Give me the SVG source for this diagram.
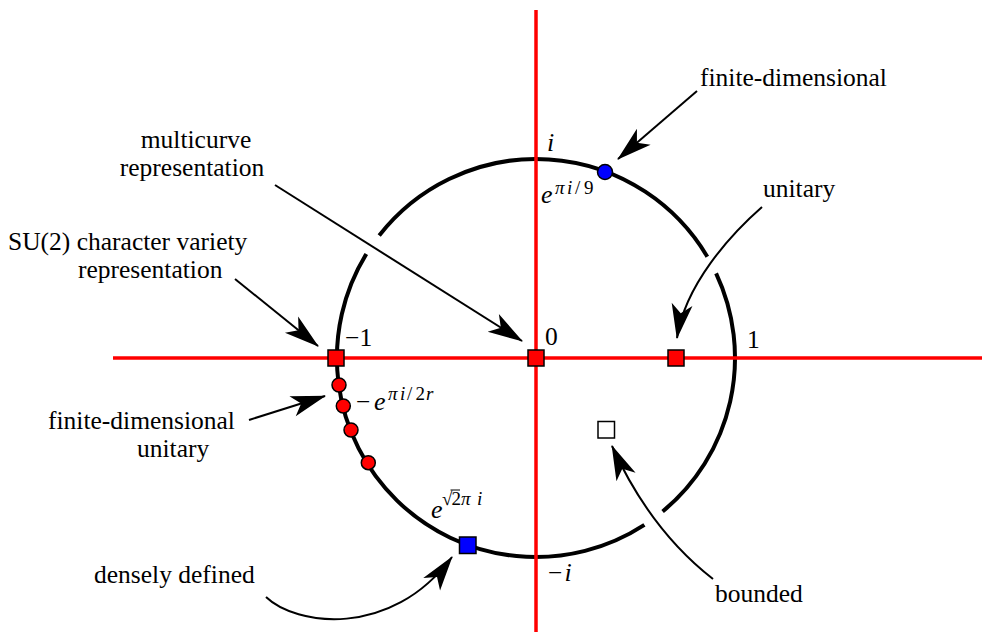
<svg xmlns="http://www.w3.org/2000/svg" width="986" height="632" viewBox="0 0 986 632">
<style>
  .lbl { font-family: "Liberation Serif", "Times New Roman", serif; font-size: 25.5px; fill: #000; }
  .math { font-family: "Liberation Serif", "Times New Roman", serif; font-size: 26px; font-style: italic; fill: #000; }
  .sup { font-family: "Liberation Serif", "Times New Roman", serif; font-size: 19px; font-style: italic; fill: #000; }
  .up { font-style: normal; }
  .circ { fill: none; stroke: #000; stroke-width: 4; }
  .axis { stroke: #ff0000; stroke-width: 3.5; fill: none; }
  .conn { fill: none; stroke: #000; stroke-width: 2; }
  .rsq { fill: #ff0000; stroke: #000; stroke-width: 1.5; }
  .bsq { fill: #0000ff; stroke: #000; stroke-width: 1.5; }
  .wsq { fill: #fff; stroke: #000; stroke-width: 1.5; }
  .rdot { fill: #ff0000; stroke: #000; stroke-width: 1.5; }
</style>
<defs>
  <marker id="head" markerUnits="userSpaceOnUse" orient="auto" refX="0" refY="0" markerWidth="40" markerHeight="30" overflow="visible">
    <path d="M1,0 L-34,-10.5 L-25,0 L-34,10.5 Z" fill="#000"/>
  </marker>
</defs>
<rect width="986" height="632" fill="#fff"/>

<g id="unit-circle">
  <path class="circ" d="M379.2,235.5 A199,199 0 0 1 707.3,256.7"/>
  <path class="circ" d="M716.1,273.3 A199,199 0 0 1 662.6,511.5"/>
  <path class="circ" d="M644.4,524.9 A199,199 0 0 1 366.3,254.0"/>
</g>

<g id="axes">
  <line class="axis" x1="113" y1="358" x2="982" y2="358"/>
  <line class="axis" x1="536" y1="10" x2="536" y2="632"/>
</g>

<g id="connectors">
  <path class="conn" d="M697,91 L618,159" marker-end="url(#head)"/>
  <path class="conn" d="M762,207 C730,235 685,285 677,338" marker-end="url(#head)"/>
  <path class="conn" d="M275,185 L522,341" marker-end="url(#head)"/>
  <path class="conn" d="M235,279 L318,346" marker-end="url(#head)"/>
  <path class="conn" d="M249,420 L325,396" marker-end="url(#head)"/>
  <path class="conn" d="M266,597 C295,625 390,640 452,557" marker-end="url(#head)"/>
  <path class="conn" d="M713,579 Q650,530 612,446" marker-end="url(#head)"/>
</g>

<g id="node-minus-one"><rect class="rsq" x="328" y="350" width="16" height="16"/></g>
<g id="node-zero"><rect class="rsq" x="528" y="350" width="16" height="16"/></g>
<g id="node-unitary"><rect class="rsq" x="668" y="350" width="16" height="16"/></g>
<g id="node-finite-dim"><circle cx="605" cy="172" r="7.5" fill="#0000ff" stroke="#000" stroke-width="1.5"/></g>
<g id="node-fd-unitary">
  <circle class="rdot" cx="339" cy="385" r="7"/>
  <circle class="rdot" cx="343.3" cy="406" r="7"/>
  <circle class="rdot" cx="351" cy="430" r="7"/>
  <circle class="rdot" cx="368.3" cy="462.7" r="7"/>
</g>
<g id="node-densely"><rect class="bsq" x="459.5" y="537" width="16.5" height="16.5"/></g>
<g id="node-bounded"><rect class="wsq" x="598" y="421.5" width="16.5" height="16.5"/></g>

<g id="axis-labels">
  <text class="math" x="547" y="151">i</text>
  <text class="lbl" x="545" y="345">0</text>
  <text class="lbl" x="747" y="348">1</text>
  <text class="lbl" x="345" y="346">−1</text>
  <text class="lbl" x="548" y="581">−<tspan class="math" dx="2">i</tspan></text>
</g>

<g id="math-labels">
  <text class="math" x="541" y="203">e</text>
  <text class="sup" y="194"><tspan x="555">π</tspan><tspan x="567">i</tspan><tspan class="up" x="575">/</tspan><tspan class="up" x="584">9</tspan></text>

  <text class="lbl" x="356" y="410">−</text>
  <text class="math" x="374" y="410">e</text>
  <text class="sup" y="400"><tspan x="388">π</tspan><tspan x="400">i</tspan><tspan class="up" x="407">/</tspan><tspan class="up" x="415.5">2</tspan><tspan x="426">r</tspan></text>

  <text class="math" x="431" y="518">e</text>
  <text class="sup" y="505"><tspan class="up" x="442">√</tspan><tspan class="up" x="451.5">2</tspan><tspan x="461">π</tspan><tspan x="477">i</tspan></text>
  <line x1="450.5" y1="490" x2="460" y2="490" stroke="#000" stroke-width="1"/>
</g>

<g id="label-finite-dimensional"><text class="lbl" x="700" y="86">finite-dimensional</text></g>
<g id="label-unitary"><text class="lbl" x="763" y="197">unitary</text></g>
<g id="label-multicurve">
  <text class="lbl" x="196" y="148" text-anchor="middle">multicurve</text>
  <text class="lbl" x="192" y="176" text-anchor="middle">representation</text>
</g>
<g id="label-su2">
  <text class="lbl" x="8" y="250">SU(2) character variety</text>
  <text class="lbl" x="78" y="278">representation</text>
</g>
<g id="label-fd-unitary">
  <text class="lbl" x="48" y="429">finite-dimensional</text>
  <text class="lbl" x="137" y="457">unitary</text>
</g>
<g id="label-densely"><text class="lbl" x="94" y="583">densely defined</text></g>
<g id="label-bounded"><text class="lbl" x="715" y="602">bounded</text></g>
</svg>
